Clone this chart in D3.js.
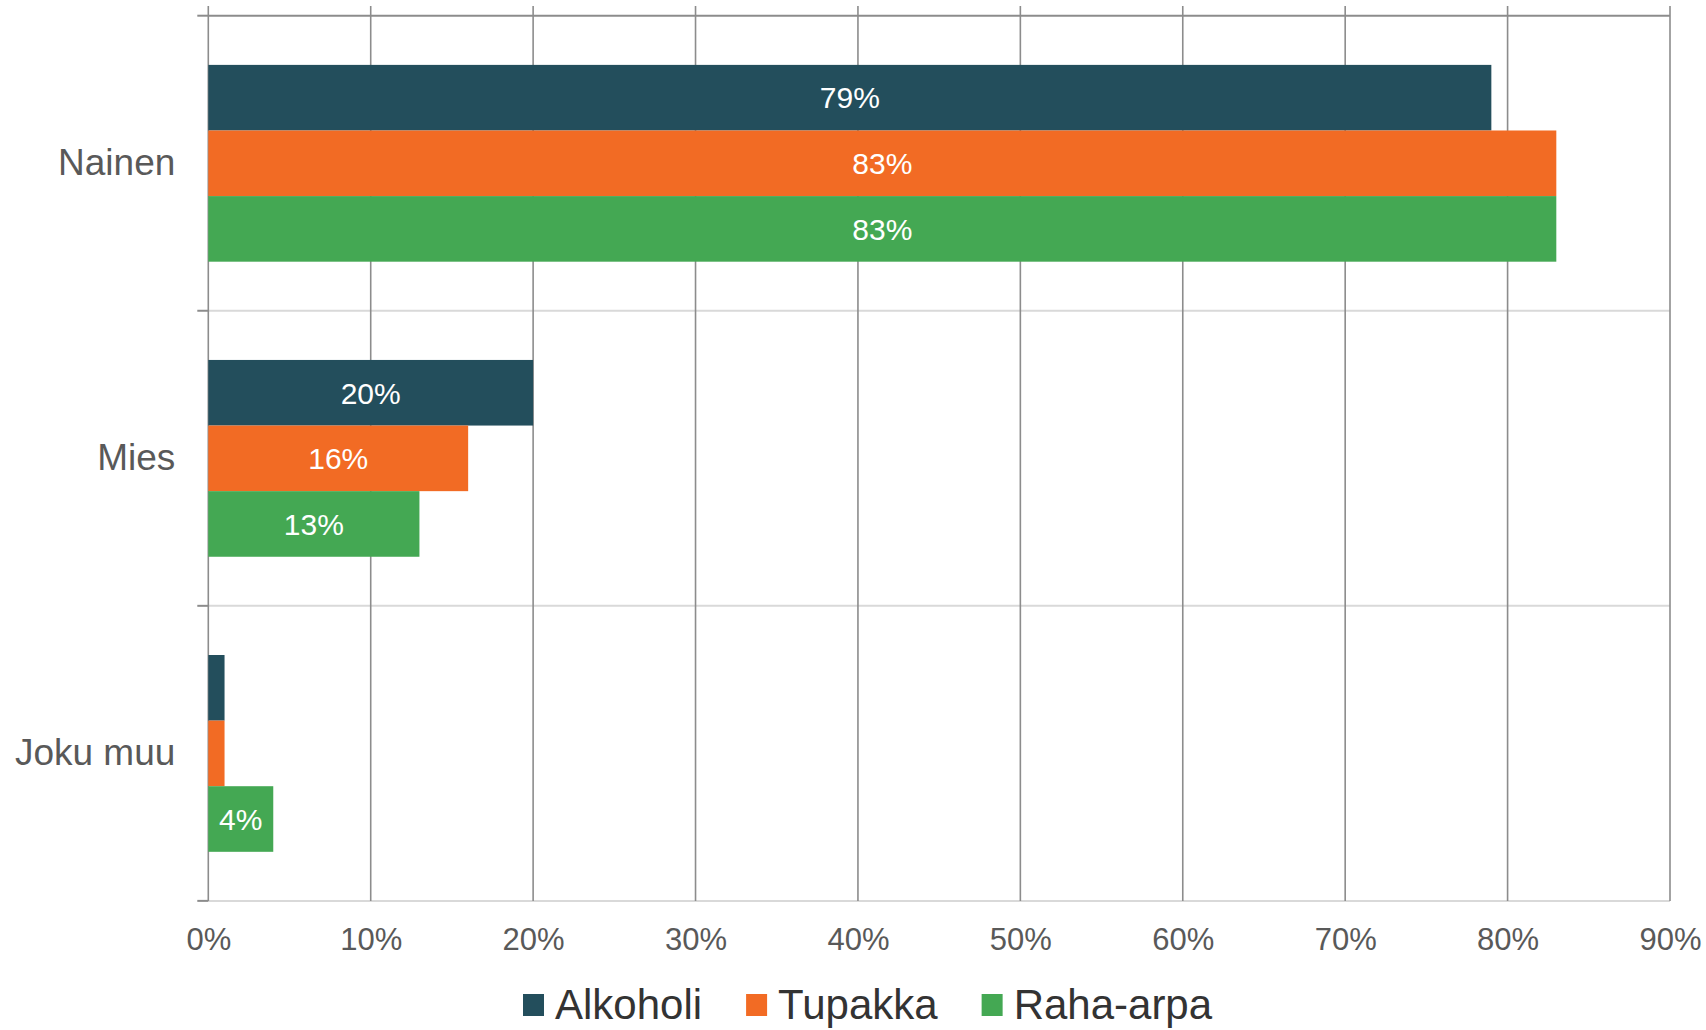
<!DOCTYPE html>
<html>
<head>
<meta charset="utf-8">
<script src="https://cdn.jsdelivr.net/npm/d3@7"></script>
<style>
  body { margin: 0; background: #fff; }
  svg { font-family: Arial, "Liberation Sans", sans-serif; }
</style>
</head>
<body>
<svg id="chart" width="1706" height="1030"></svg>
<script>
// chart data
var categories = ['Nainen', 'Mies', 'Joku muu'];
var series = ['Alkoholi', 'Tupakka', 'Raha-arpa'];
var alkoholi = [0.79, 0.20, 0.01];
var tupakka = [0.83, 0.16, 0.01];
var rahaArpa = [0.83, 0.13, 0.04];
var xTicks = [0, 0.1, 0.2, 0.3, 0.4, 0.5, 0.6, 0.7, 0.8, 0.9];
var colors = ['#234e5c', '#f26b24', '#44a853'];

var values = [alkoholi, tupakka, rahaArpa];

var svg = d3.select('#chart');

// plot area (window.top is reserved, so no "top" here)
var plotLeft = 208.3, plotRight = 1670, plotTop = 15.7, plotBottom = 901;

var x = d3.scaleLinear().domain([0, 0.9]).range([plotLeft, plotRight]);
var y = d3.scaleBand().domain(categories).range([plotTop, plotBottom])
    .paddingInner(0.333).paddingOuter(0.1667);
var yInner = d3.scaleBand().domain(series).range([0, y.bandwidth()]).padding(0);
var step = y.step();

// horizontal category separators
var bounds = d3.range(categories.length + 1).map(function(i){ return plotTop + i * step; });
svg.append('g').selectAll('line')
    .data(bounds)
    .join('line')
    .attr('x1', plotLeft).attr('x2', plotRight)
    .attr('y1', function(d){ return d; }).attr('y2', function(d){ return d; })
    .attr('stroke', function(d, i){ return i === 0 ? '#8c8c8c' : '#d9d9d9'; })
    .attr('stroke-width', 2);

// vertical gridlines
svg.append('g').selectAll('line')
    .data(xTicks)
    .join('line')
    .attr('x1', function(d){ return x(d); }).attr('x2', function(d){ return x(d); })
    .attr('y1', 6).attr('y2', plotBottom)
    .attr('stroke', '#8c8c8c')
    .attr('stroke-width', 1.6);

// category ticks on the left
svg.append('g').selectAll('line')
    .data(bounds)
    .join('line')
    .attr('x1', plotLeft - 11).attr('x2', plotLeft)
    .attr('y1', function(d){ return d; }).attr('y2', function(d){ return d; })
    .attr('stroke', '#8c8c8c')
    .attr('stroke-width', 2);

// bars
var rows = [];
categories.forEach(function(c, ci){
    series.forEach(function(s, si){
        rows.push({cat: c, ser: s, si: si, v: values[si][ci]});
    });
});

var bars = svg.append('g');
bars.selectAll('rect')
    .data(rows)
    .join('rect')
    .attr('x', x(0))
    .attr('y', function(d){ return y(d.cat) + yInner(d.ser); })
    .attr('width', function(d){ return x(d.v) - x(0); })
    .attr('height', yInner.bandwidth())
    .attr('fill', function(d){ return colors[d.si]; });

// data labels (only where the bar has room)
bars.selectAll('text')
    .data(rows.filter(function(d){ return x(d.v) - x(0) > 50; }))
    .join('text')
    .attr('x', function(d){ return (x(0) + x(d.v)) / 2; })
    .attr('y', function(d){ return y(d.cat) + yInner(d.ser) + yInner.bandwidth() / 2; })
    .attr('dy', '0.36em')
    .attr('text-anchor', 'middle')
    .attr('fill', '#fff')
    .style('font-size', '30px')
    .text(function(d){ return d3.format('.0%')(d.v); });

// x axis labels
var xAxis = svg.append('g')
    .attr('transform', 'translate(0,' + plotBottom + ')')
    .call(d3.axisBottom(x).tickValues(xTicks).tickFormat(d3.format('.0%')).tickSize(0).tickPadding(27));
xAxis.select('.domain').remove();
xAxis.selectAll('text').attr('fill', '#595959').style('font-size', '31px');

// category labels
var yAxis = svg.append('g')
    .attr('transform', 'translate(' + (plotLeft - 33) + ',0)')
    .call(d3.axisLeft(y).tickSize(0).tickPadding(0));
yAxis.select('.domain').remove();
yAxis.selectAll('text').attr('fill', '#595959').style('font-size', '37px');

// legend
var legend = svg.append('g');
var lx = 523;
series.forEach(function(s, i){
    legend.append('rect')
        .attr('x', lx).attr('y', 994)
        .attr('width', 21).attr('height', 22)
        .attr('fill', colors[i]);
    var t = legend.append('text')
        .attr('x', lx + 32).attr('y', 1019)
        .attr('fill', '#333333')
        .style('font-size', '42px')
        .text(s);
    lx = lx + 32 + t.node().getComputedTextLength() + 44;
});
</script>
</body>
</html>
